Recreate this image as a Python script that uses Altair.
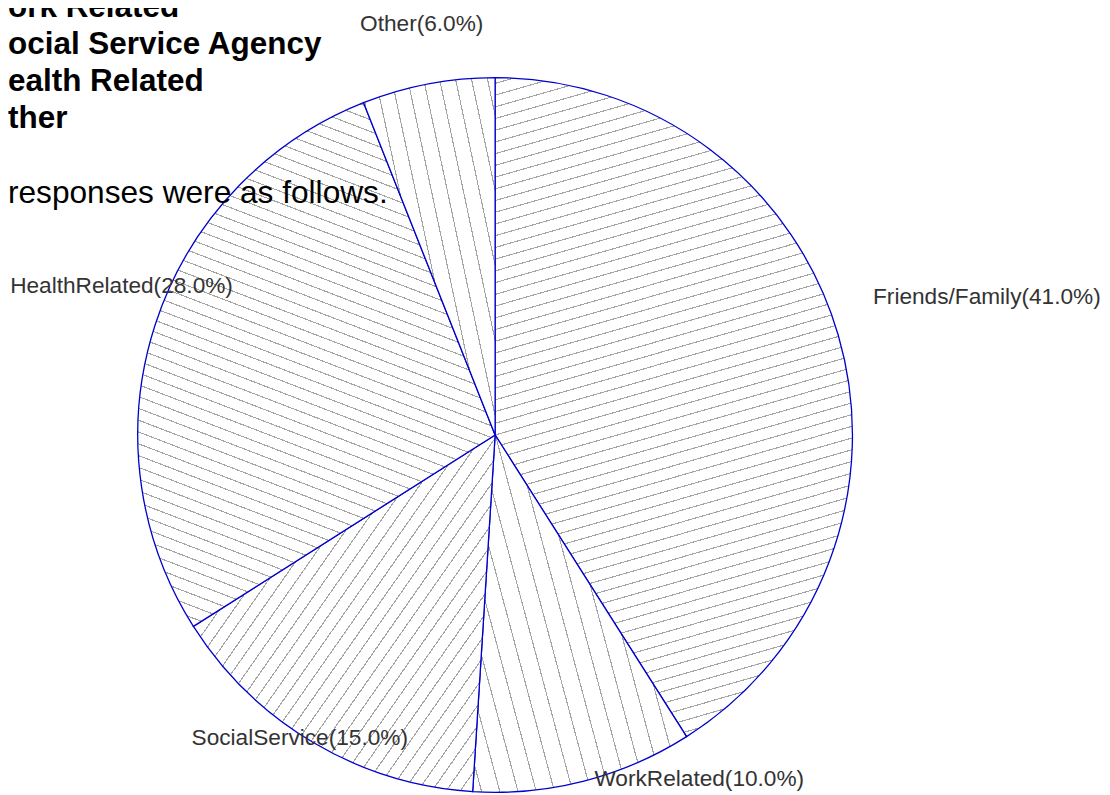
import math
import altair as alt
import pandas as pd

# ---------------- data ----------------
categories = ["Friends/Family", "WorkRelated", "SocialService", "HealthRelated", "Other"]
values = [41.0, 10.0, 15.0, 28.0, 6.0]
order = [0, 1, 2, 3, 4]

heading_lines = ["ork Related", "ocial Service Agency", "ealth Related", "ther"]
intro_line = ["responses were as follows."]

df = pd.DataFrame({"category": categories, "value": values, "order": order})

# ---------------- styles ----------------
R = 358
BLUE = "#0000cc"
HATCH = "#a4a4a4"
FONT = "Liberation Sans"
W, H = 976, 720
PAD = {"left": 0, "top": 67, "right": 120, "bottom": 0}

# hatch line angle (deg, counter-clockwise from +x) and spacing (px)
hatch_style = {
    "Friends/Family": (16, 11.2),
    "WorkRelated": (-75, 18),
    "SocialService": (55, 11.5),
    "HealthRelated": (-21, 11),
    "Other": (-78, 16),
}
# label placement: radius, dx, dy, align
label_style = {
    "Friends/Family": (512, 1, 5, "center"),
    "WorkRelated": (360, 115, -4, "center"),
    "SocialService": (353, -16, 0, "center"),
    "HealthRelated": (403, 9, -25, "center"),
    "Other": (419, 5, 0, "center"),
}


def slice_bbox(a0, a1):
    """pixel bounding box (w, h) of a pie slice from angles in degrees (0 = top, clockwise)."""
    pts = [(0.0, 0.0)]
    angs = [a0, a1] + [c for c in (0, 90, 180, 270, 360) if a0 < c < a1]
    for a in angs:
        r = math.radians(a)
        pts.append((R * math.sin(r), -R * math.cos(r)))
    xs = [p[0] for p in pts]
    ys = [p[1] for p in pts]
    return max(xs) - min(xs), max(ys) - min(ys)


def hatch_gradient(w, h, alpha_deg, spacing, lw=1.1):
    a = math.radians(alpha_deg)
    nx, ny = math.sin(a), math.cos(a)
    L = abs(w * nx) + abs(h * ny)
    q = (w * nx) ** 2 + (h * ny) ** 2
    s = L / q
    gx, gy = s * w * nx, s * h * ny
    n = max(1, int(round(L / spacing)))
    hw = lw / (2 * L)
    stops = [alt.GradientStop(offset=0, color="white")]
    for k in range(n):
        c = (k + 0.5) / n
        stops += [
            alt.GradientStop(offset=round(c - hw, 5), color="white"),
            alt.GradientStop(offset=round(c - hw, 5), color=HATCH),
            alt.GradientStop(offset=round(c + hw, 5), color=HATCH),
            alt.GradientStop(offset=round(c + hw, 5), color="white"),
        ]
    stops.append(alt.GradientStop(offset=1, color="white"))
    return alt.LinearGradient(
        gradient="linear", stops=stops,
        x1=0.5 - gx / 2, y1=0.5 - gy / 2, x2=0.5 + gx / 2, y2=0.5 + gy / 2,
    )


base = (
    alt.Chart(df)
    .transform_window(cum="sum(value)", sort=[alt.SortField("order")], frame=[None, 0])
    .transform_joinaggregate(total="sum(value)")
    .transform_calculate(
        s="(datum.cum - datum.value) / datum.total",
        e="datum.cum / datum.total",
        m="(datum.cum - datum.value / 2) / datum.total",
        label="datum.category + '(' + format(datum.value / datum.total * 100, '.1f') + '%)'",
    )
)
theta_scale = alt.Scale(domain=[0, 1], range=[0, 2 * math.pi])

total = sum(values)
cum = 0.0
arc_layers = []
text_layers = []
for cat, v in zip(categories, values):
    a0 = cum / total * 360
    a1 = (cum + v) / total * 360
    cum += v
    bw, bh = slice_bbox(a0, a1)
    ang, sp = hatch_style[cat]
    grad = hatch_gradient(bw, bh, ang, sp)
    arc_layers.append(
        base.transform_filter(alt.datum.category == cat)
        .mark_arc(outerRadius=R, fill=grad, stroke=BLUE, strokeWidth=1.3)
        .encode(theta=alt.Theta("s:Q", scale=theta_scale), theta2="e:Q")
    )
    r, dx, dy, al = label_style[cat]
    text_layers.append(
        base.transform_filter(alt.datum.category == cat)
        .mark_text(font=FONT, fontSize=22.7, color="#333333", dx=dx, dy=dy,
                   align=al, baseline="middle")
        .encode(theta=alt.Theta("m:Q", scale=theta_scale), radius=alt.value(r), text="label:N")
    )

note_df = pd.DataFrame({"k": [0]})
heading = (
    alt.Chart(note_df)
    .mark_text(text=heading_lines, font=FONT, fontSize=31.5, fontWeight="bold",
               color="black", align="left", baseline="alphabetic", lineHeight=37.3)
    .encode(x=alt.value(0), y=alt.value(-59))
)
intro = (
    alt.Chart(note_df)
    .mark_text(text=intro_line, font=FONT, fontSize=31.7, color="black",
               align="left", baseline="alphabetic")
    .encode(x=alt.value(0), y=alt.value(128))
)

chart = (
    alt.layer(*arc_layers, *text_layers, heading, intro)
    .properties(width=W, height=H, padding=PAD, autosize=alt.AutoSizeParams(type="none"),
                background="white")
    .configure_view(stroke=None)
)

chart.save("out.html", embed_options={"renderer": "svg", "actions": False})
